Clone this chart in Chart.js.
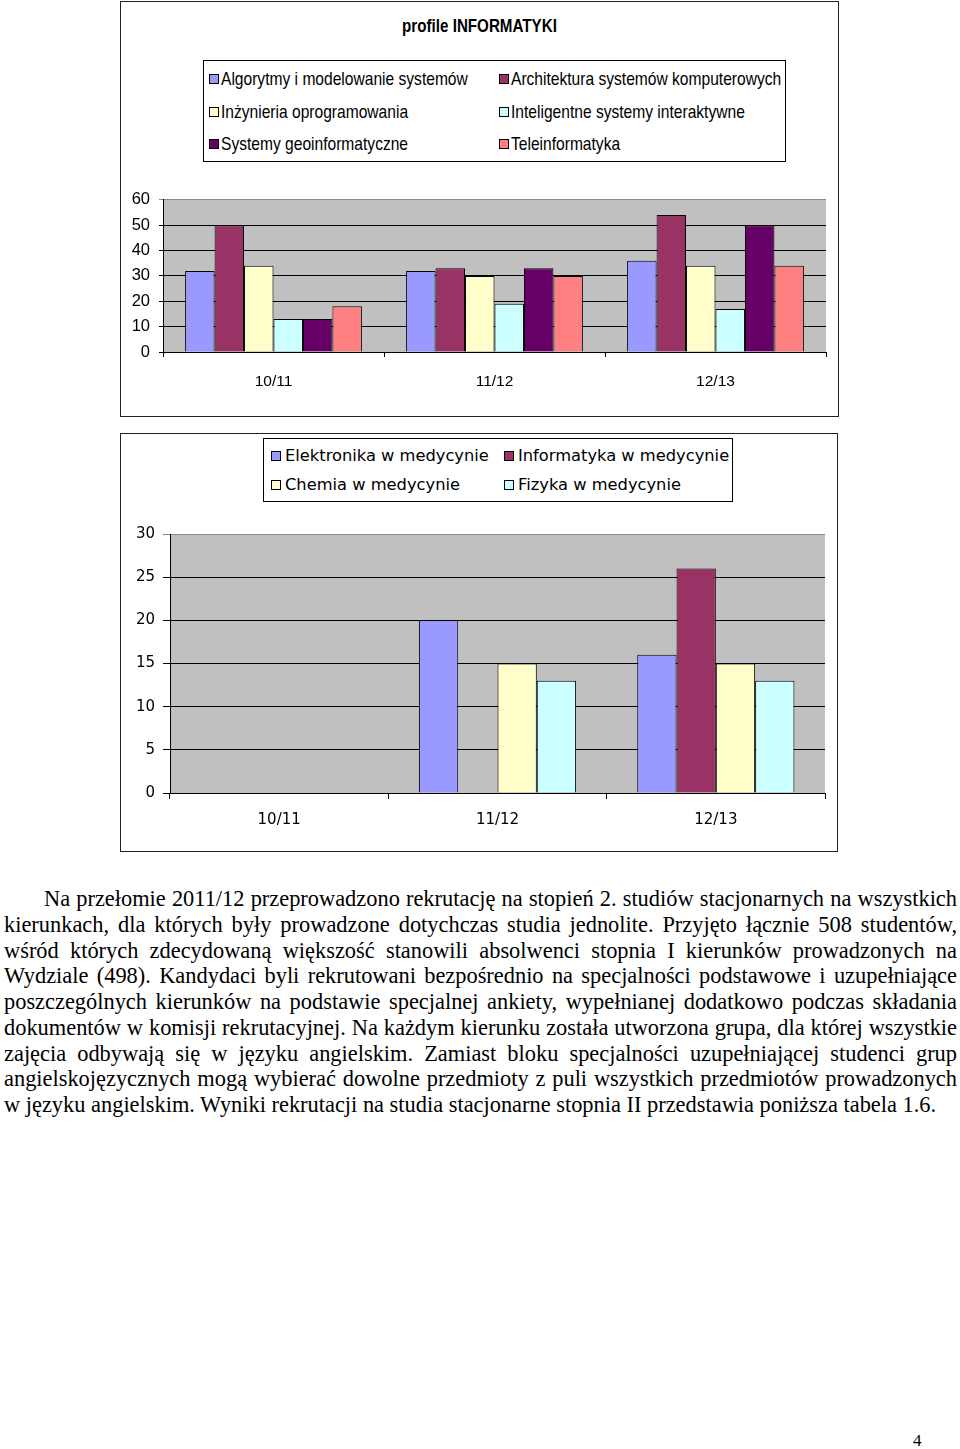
<!DOCTYPE html>
<html>
<head>
<meta charset="utf-8">
<script src="https://cdn.jsdelivr.net/npm/chart.js@4.4.1/dist/chart.umd.min.js"></script>
<style>
  html, body { margin: 0; padding: 0; background: #fff; }
  body { width: 960px; height: 1449px; position: relative; overflow: hidden; }
  .box { position: absolute; border: 1px solid #222; background: #fff; box-sizing: border-box; }
  .legend { position: absolute; border: 1px solid #000; box-sizing: border-box; background: #fff; }
  .li { position: absolute; white-space: nowrap; transform-origin: 0 50%; }
  .mk { position: absolute; width: 10px; height: 10px; border: 1px solid #000; box-sizing: border-box; }
  .title1 { position: absolute; font-family: "Liberation Sans", Arial, sans-serif; font-weight: bold; font-size: 18.5px; white-space: nowrap; transform: scaleX(0.82); transform-origin: 50% 50%; }
  canvas { position: absolute; }
  .para { position: absolute; left: 4px; width: 953px; font-family: "Liberation Serif", "Times New Roman", serif; font-size: 22.4px; color: #000; }
  .line { height: 25.75px; line-height: 25.75px; white-space: nowrap; text-align: justify; text-align-last: justify; }
  .line.last { text-align: left; text-align-last: left; }
  .pnum { position: absolute; left: 913px; top: 1431px; font-family: "Liberation Serif", serif; font-size: 17px; }
</style>
</head>
<body>
<div class="box" id="box1" style="left:120px; top:1px; width:719px; height:416px;">
  <div class="title1" id="title1" style="left:0; width:717px; top:13px; text-align:center;"></div>
  <div class="legend" id="leg1" style="left:82px; top:58px; width:583px; height:102px;"></div>
  <canvas id="c1" width="716" height="225" style="left:0; top:179px;"></canvas>
</div>
<div class="box" id="box2" style="left:120px; top:433px; width:718px; height:419px;">
  <div class="legend" id="leg2" style="left:142px; top:4px; width:470px; height:64px;"></div>
  <canvas id="c2" width="715" height="330" style="left:0; top:81px;"></canvas>
</div>

<div class="para" style="top:886px;">
  <div class="line" style="padding-left:40px;">Na przełomie 2011/12 przeprowadzono rekrutację na stopień 2. studiów stacjonarnych na wszystkich</div>
  <div class="line">kierunkach, dla których były prowadzone dotychczas studia jednolite. Przyjęto łącznie 508 studentów,</div>
  <div class="line">wśród których zdecydowaną większość stanowili absolwenci stopnia I kierunków prowadzonych na</div>
  <div class="line">Wydziale (498). Kandydaci byli rekrutowani bezpośrednio na specjalności podstawowe i uzupełniające</div>
  <div class="line">poszczególnych kierunków na podstawie specjalnej ankiety, wypełnianej dodatkowo podczas składania</div>
  <div class="line">dokumentów w komisji rekrutacyjnej. Na każdym kierunku została utworzona grupa, dla której wszystkie</div>
  <div class="line">zajęcia odbywają się w języku angielskim. Zamiast bloku specjalności uzupełniającej studenci grup</div>
  <div class="line">angielskojęzycznych mogą wybierać dowolne przedmioty z puli wszystkich przedmiotów prowadzonych</div>
  <div class="line last">w języku angielskim. Wyniki rekrutacji na studia stacjonarne stopnia II przedstawia poniższa tabela 1.6.</div>
</div>
<div class="pnum">4</div>

<script>
// ---------- DATA ----------
const categories = ['10/11', '11/12', '12/13'];

const chart1Title = 'profile INFORMATYKI';
const profileNames = [
  'Algorytmy i modelowanie systemów',
  'Architektura systemów komputerowych',
  'Inżynieria oprogramowania',
  'Inteligentne systemy interaktywne',
  'Systemy geoinformatyczne',
  'Teleinformatyka'
];
const algorytmy       = [32, 32, 36];
const architektura    = [50, 33, 54];
const inzynieria      = [34, 30, 34];
const inteligentne    = [13, 19, 17];
const geoinformatyka  = [13, 33, 50];
const teleinformatyka = [18, 30, 34];
const yTicks1 = { min: 0, max: 60, step: 10 };

const medNames = [
  'Elektronika w medycynie',
  'Informatyka w medycynie',
  'Chemia w medycynie',
  'Fizyka w medycynie'
];
const elektronika = [null, 20, 16];
const informatyka = [null, null, 26];
const chemia      = [null, 15, 15];
const fizyka      = [null, 13, 13];
const yTicks2 = { min: 0, max: 30, step: 5 };

// ---------- STYLE ----------
const colors6 = ['#9999FF', '#993366', '#FFFFCC', '#CCFFFF', '#660066', '#FF8080'];
const colors4 = ['#9999FF', '#993366', '#FFFFCC', '#CCFFFF'];
const SANS = '"Liberation Sans", Arial, sans-serif';
const DEJAVU = '"DejaVu Sans", Verdana, sans-serif';

const plotBg = {
  id: 'plotBg',
  beforeDraw(chart) {
    const a = chart.chartArea, ctx = chart.ctx;
    ctx.save();
    ctx.fillStyle = '#C0C0C0';
    ctx.fillRect(a.left, a.top, a.right - a.left, a.bottom - a.top);
    ctx.restore();
  }
};

function makeChart(id, seriesList, names, cols, yt, cfg) {
  const datasets = seriesList.map((d, i) => ({
    label: names[i], data: d, backgroundColor: cols[i],
    borderColor: '#000', borderWidth: 1, borderSkipped: 'start',
    categoryPercentage: cfg.catPct, barPercentage: 1.0
  }));
  return new Chart(document.getElementById(id), {
    type: 'bar',
    data: { labels: categories, datasets },
    plugins: [plotBg],
    options: {
      responsive: false, animation: false,
      layout: { padding: { top: cfg.padTop, right: cfg.padRight, left: 0, bottom: 0 } },
      plugins: { legend: { display: false }, tooltip: { enabled: false }, title: { display: false } },
      scales: {
        x: {
          grid: { display: true, offset: true, drawOnChartArea: false, drawTicks: true, tickLength: cfg.xTick, color: '#000', lineWidth: 1 },
          border: { display: true, color: '#000', width: 1 },
          ticks: { font: { family: cfg.font, size: cfg.xSize }, color: '#000', padding: cfg.xPad, maxRotation: 0 },
          afterFit(s) { s.height = cfg.xHeight; }
        },
        y: {
          min: yt.min, max: yt.max,
          grid: {
            drawTicks: true, tickLength: cfg.yTick, lineWidth: 1,
            color: (c) => (c.tick && c.tick.value === yt.max) ? '#8a8a8a' : '#000'
          },
          border: { display: true, color: '#000', width: 1 },
          ticks: { stepSize: yt.step, font: { family: cfg.font, size: cfg.ySize }, color: '#000', padding: cfg.yPad },
          afterFit(s) { s.width = cfg.yWidth; }
        }
      }
    }
  });
}

function buildLegend(el, names, cols, pos) {
  names.forEach((n, i) => {
    const p = pos[i];
    const mk = document.createElement('div');
    mk.className = 'mk';
    mk.style.left = p.mx + 'px'; mk.style.top = (p.cy - 5) + 'px';
    mk.style.background = cols[i];
    el.appendChild(mk);
    const t = document.createElement('div');
    t.className = 'li';
    t.textContent = n;
    t.style.left = p.tx + 'px';
    t.style.top = (p.cy - p.lh / 2) + 'px';
    t.style.lineHeight = p.lh + 'px';
    t.style.fontFamily = p.font; t.style.fontSize = p.size + 'px';
    if (p.sx) t.style.transform = 'scaleX(' + p.sx + ')';
    el.appendChild(t);
  });
}

document.getElementById('title1').textContent = chart1Title;

const c1 = makeChart('c1',
  [algorytmy, architektura, inzynieria, inteligentne, geoinformatyka, teleinformatyka],
  profileNames, colors6, yTicks1,
  { catPct: 0.80, padTop: 18, padRight: 11, font: SANS, xSize: 15.5, ySize: 16.5, xTick: 5, yTick: 4,
    xPad: 15, yPad: 9, xHeight: 54, yWidth: 42 });

const c2 = makeChart('c2',
  [elektronika, informatyka, chemia, fizyka],
  medNames, colors4, yTicks2,
  { catPct: 0.72, padTop: 19, padRight: 11, font: DEJAVU, xSize: 15, ySize: 15, xTick: 6, yTick: 7,
    xPad: 12, yPad: 8, xHeight: 52, yWidth: 49 });

// legend 1
const l1rows = [18, 51, 83];
const L1 = { lh: 22, font: SANS, size: 19, sx: 0.82 };
buildLegend(document.getElementById('leg1'), c1.data.datasets.map(d => d.label), colors6, [
  Object.assign({ mx: 5, tx: 17, cy: l1rows[0] }, L1),
  Object.assign({ mx: 295, tx: 307, cy: l1rows[0] }, L1),
  Object.assign({ mx: 5, tx: 17, cy: l1rows[1] }, L1),
  Object.assign({ mx: 295, tx: 307, cy: l1rows[1] }, L1),
  Object.assign({ mx: 5, tx: 17, cy: l1rows[2] }, L1),
  Object.assign({ mx: 295, tx: 307, cy: l1rows[2] }, L1)
]);
// legend 2
const l2rows = [17, 46];
const L2 = { lh: 20, font: DEJAVU, size: 16.3 };
buildLegend(document.getElementById('leg2'), c2.data.datasets.map(d => d.label), colors4, [
  Object.assign({ mx: 7, tx: 21, cy: l2rows[0] }, L2),
  Object.assign({ mx: 240, tx: 254, cy: l2rows[0] }, L2),
  Object.assign({ mx: 7, tx: 21, cy: l2rows[1] }, L2),
  Object.assign({ mx: 240, tx: 254, cy: l2rows[1] }, L2)
]);
</script>
</body>
</html>
